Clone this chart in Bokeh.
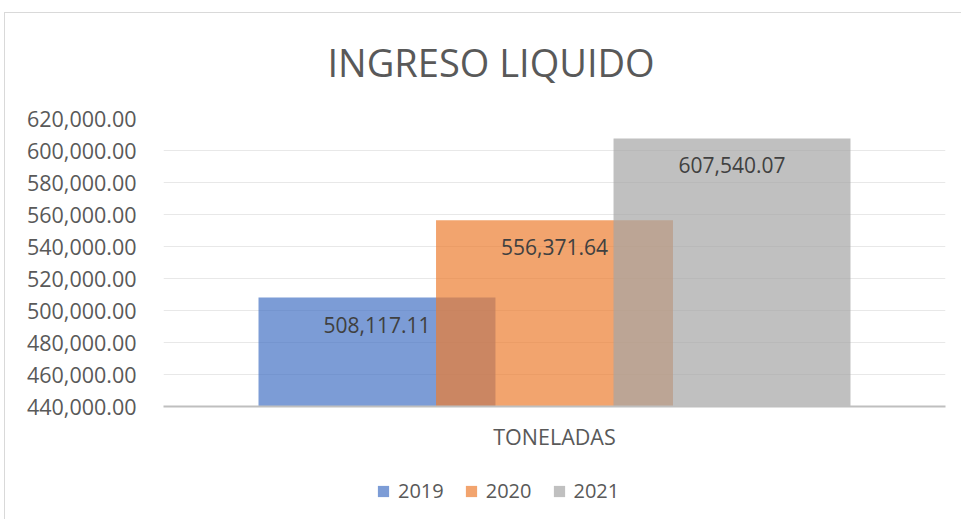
from bokeh.plotting import figure
from bokeh.layouts import column
from bokeh.models import (FactorRange, Range1d, FixedTicker, NumeralTickFormatter,
                          Legend, LegendItem, ColumnDataSource, InlineStyleSheet)
from bokeh.transform import dodge
from bokeh.core.properties import value
from bokeh.embed import file_html
from bokeh.resources import INLINE

# ---- data ----
title_text = "INGRESO LIQUIDO"
categories = ["TONELADAS"]
years = ["2019", "2020", "2021"]
values_2019 = [508117.11]
values_2020 = [556371.64]
values_2021 = [607540.07]
y_ticks = [440000, 460000, 480000, 500000, 520000, 540000, 560000, 580000, 600000, 620000]

# ---- styles ----
colors = ["#4472C4", "#ED7D31", "#A5A5A5"]
offsets = [-0.227, 0.0, 0.227]
bar_width = 0.303
bar_alpha = 0.7
FONT = value("Open Sans")
TXT = "#595959"

W = 961
H_MAIN, H_LEG = 460, 59

p = figure(width=W, height=H_MAIN,
           x_range=FactorRange(factors=categories, range_padding=0),
           y_range=Range1d(y_ticks[0], y_ticks[-1]),
           output_backend="svg", toolbar_location=None,
           min_border_left=163, min_border_right=16,
           min_border_top=118, min_border_bottom=54)

p.background_fill_color = "white"
p.border_fill_color = None
p.outline_line_color = None

# title
p.title.text = title_text
p.title.text_font = "Open Sans"
p.title.text_font_size = "38px"
p.title.text_font_style = "normal"
p.title.text_color = TXT
p.title.align = "left"
p.title.offset = 164
p.title.standoff = 62

# y axis
p.yaxis.ticker = FixedTicker(ticks=y_ticks)
p.yaxis.formatter = NumeralTickFormatter(format="0,0.00")
p.yaxis.axis_line_color = None
p.yaxis.major_tick_line_color = None
p.yaxis.minor_tick_line_color = None
p.yaxis.major_tick_out = 0
p.yaxis.major_label_standoff = 27
p.yaxis.major_label_text_font = "Open Sans"
p.yaxis.major_label_text_font_size = "21.5px"
p.yaxis.major_label_text_color = TXT

# x axis
p.xaxis.axis_line_color = "#BFBFBF"
p.xaxis.axis_line_width = 2
p.xaxis.major_tick_line_color = None
p.xaxis.major_tick_out = 0
p.xaxis.major_label_standoff = 15
p.xaxis.major_label_text_font = "Open Sans"
p.xaxis.major_label_text_font_size = "21.5px"
p.xaxis.major_label_text_color = TXT

# grid
p.xgrid.grid_line_color = None
p.ygrid.ticker = FixedTicker(ticks=y_ticks)
p.ygrid.grid_line_color = "#E8E8E8"
p.ygrid.grid_line_width = 1

series = [values_2019, values_2020, values_2021]
sources = []
for yr, vals, col, off in zip(years, series, colors, offsets):
    src = ColumnDataSource(dict(cat=categories, val=vals,
                                lbl=["{:,.2f}".format(v) for v in vals]))
    sources.append((src, off, col, yr))
    p.vbar(x=dodge("cat", off, range=p.x_range), top="val", bottom=y_ticks[0],
           width=bar_width, source=src, fill_color=col, fill_alpha=bar_alpha,
           line_color=None)

for src, off, col, yr in sources:
    p.text(x=dodge("cat", off, range=p.x_range), y="val", text="lbl", source=src,
           y_offset=27, text_align="center", text_baseline="middle",
           text_font=FONT, text_font_size="21px", text_color="#404040")

# ---- legend strip (frame aligned with the main chart's frame) ----
pl = figure(width=W, height=H_LEG,
            x_range=FactorRange(factors=categories, range_padding=0),
            y_range=Range1d(-2 * y_ticks[-1], -y_ticks[-1]),
            output_backend="svg", toolbar_location=None,
            x_axis_location=None, y_axis_location=None,
            min_border=0)
pl.grid.visible = False
pl.outline_line_color = None
pl.background_fill_color = "white"
pl.border_fill_color = None

items = []
for src, off, col, yr in sources:
    # hidden copy of the bars: only their legend swatch is shown
    r = pl.vbar(x=dodge("cat", off, range=pl.x_range), top="val", bottom=y_ticks[0],
                width=bar_width, source=src, fill_color=col, fill_alpha=bar_alpha,
                line_color=None)
    r.visible = False
    items.append(LegendItem(label=yr, renderers=[r]))

legend = Legend(items=items, orientation="horizontal", location=(213, 15),
                glyph_width=14, glyph_height=14, label_standoff=8, spacing=20,
                label_text_font="Open Sans", label_text_font_size="20px",
                label_text_color=TXT, border_line_color=None,
                background_fill_alpha=0, padding=0, margin=0,
                click_policy="none", inactive_fill_alpha=0)
pl.add_layout(legend)

css = InlineStyleSheet(css="""
:host { position: relative; background: white; }
:host::after {
  content: ""; position: absolute; left: 4px; top: 12px; right: 0; bottom: 0;
  border-top: 1px solid #D9D9D9; border-left: 1px solid #D9D9D9;
  pointer-events: none; z-index: 10;
}
""")
layout = column(p, pl, spacing=0, stylesheets=[css])

open("out.html", "w").write(file_html(layout, INLINE))
